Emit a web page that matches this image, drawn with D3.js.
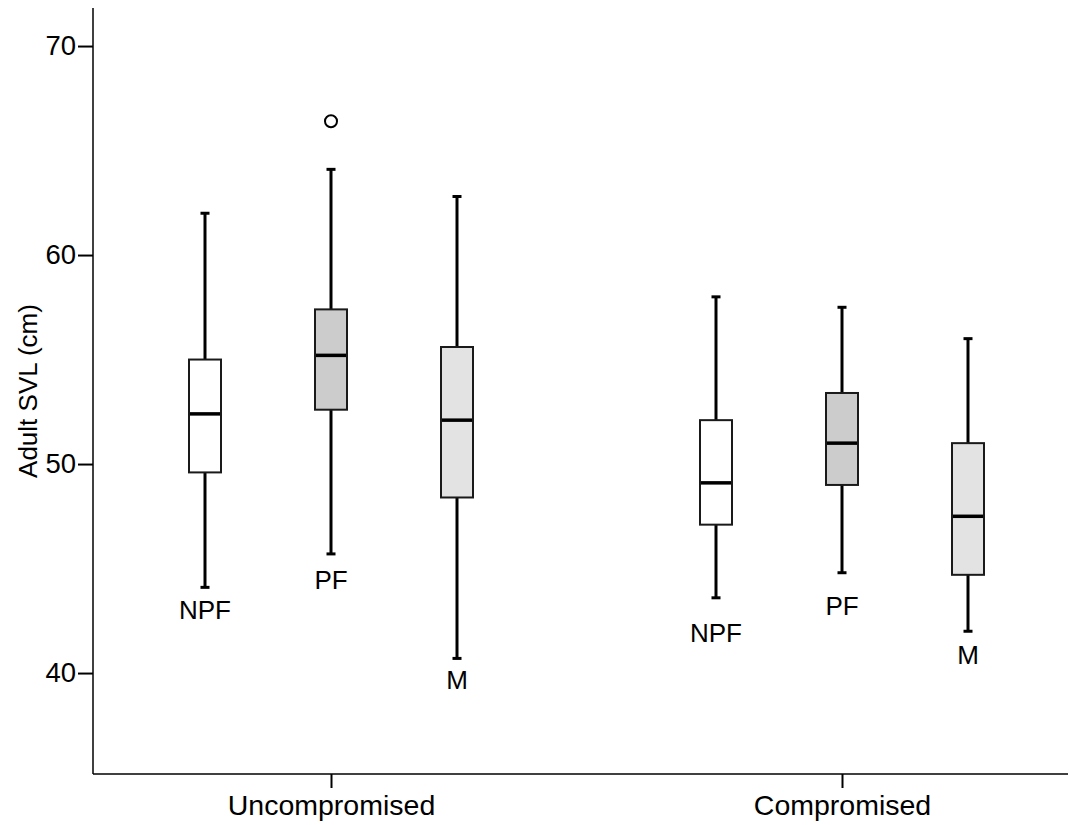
<!DOCTYPE html>
<html>
<head>
<meta charset="utf-8">
<script src="https://cdn.jsdelivr.net/npm/d3@7"></script>
<style>
  body { margin: 0; background: #fff; }
  svg text { font-family: "Liberation Sans", Arial, sans-serif; fill: #000; }
</style>
</head>
<body>
<div id="chart"></div>
<script>
// categories
const groups = ['Uncompromised', 'Compromised'];
const series = ['NPF', 'PF', 'M'];
const yTicks = [40, 50, 60, 70];

// five-number summaries per group, in series order (cm)
const whiskerLow  = [[44.1, 45.7, 40.7], [43.6, 44.8, 42.0]];
const boxLow      = [[49.6, 52.6, 48.4], [47.1, 49.0, 44.7]];
const medians     = [[52.4, 55.2, 52.1], [49.1, 51.0, 47.5]];
const boxHigh     = [[55.0, 57.4, 55.6], [52.1, 53.4, 51.0]];
const whiskerHigh = [[62.0, 64.1, 62.8], [58.0, 57.5, 56.0]];
const outliers    = [{ group: 'Uncompromised', series: 'PF', value: 66.4 }];

// where the series labels sit (baseline, in cm)
const labelAt = [[42.6, 44.0, 39.25], [41.5, 42.8, 40.45]];

const fills = { NPF: '#ffffff', PF: '#cccccc', M: '#e3e3e3' };

const W = 1070, H = 825;
const plotLeft = 93, plotRight = 1068, plotTop = 8, plotBottom = 774;

const svg = d3.select('#chart').append('svg')
  .attr('width', W)
  .attr('height', H);

const y = d3.scaleLinear()
  .domain([35.17, 71.82])
  .range([plotBottom, plotTop]);

const x = d3.scalePoint()
  .domain(groups)
  .range([331, 842]);

const xSub = d3.scalePoint()
  .domain(series)
  .range([-126, 126]);

const boxW = 32, capW = 9;

// flatten into rows
const rows = [];
groups.forEach((g, gi) => {
  series.forEach((s, si) => {
    rows.push({
      group: g, series: s,
      lo: whiskerLow[gi][si], q1: boxLow[gi][si], med: medians[gi][si],
      q3: boxHigh[gi][si], hi: whiskerHigh[gi][si], label: labelAt[gi][si]
    });
  });
});

const cx = d => x(d.group) + xSub(d.series);

const box = svg.append('g').selectAll('g')
  .data(rows)
  .enter()
  .append('g');

// whiskers
box.append('line')
  .attr('x1', cx).attr('x2', cx)
  .attr('y1', d => y(d.hi)).attr('y2', d => y(d.q3))
  .attr('stroke', '#000').attr('stroke-width', 3);
box.append('line')
  .attr('x1', cx).attr('x2', cx)
  .attr('y1', d => y(d.q1)).attr('y2', d => y(d.lo))
  .attr('stroke', '#000').attr('stroke-width', 3);

// caps
['hi', 'lo'].forEach(k => {
  box.append('line')
    .attr('x1', d => cx(d) - capW / 2).attr('x2', d => cx(d) + capW / 2)
    .attr('y1', d => y(d[k])).attr('y2', d => y(d[k]))
    .attr('stroke', '#000').attr('stroke-width', 3);
});

// boxes
box.append('rect')
  .attr('x', d => cx(d) - boxW / 2)
  .attr('width', boxW)
  .attr('y', d => y(d.q3))
  .attr('height', d => y(d.q1) - y(d.q3))
  .attr('fill', d => fills[d.series])
  .attr('stroke', '#1a1a1a')
  .attr('stroke-width', 2);

// medians
box.append('line')
  .attr('x1', d => cx(d) - boxW / 2 + 1).attr('x2', d => cx(d) + boxW / 2 - 1)
  .attr('y1', d => y(d.med)).attr('y2', d => y(d.med))
  .attr('stroke', '#000').attr('stroke-width', 3.5);

// series labels
box.append('text')
  .attr('x', cx)
  .attr('y', d => y(d.label))
  .attr('text-anchor', 'middle')
  .style('font-size', '26px')
  .text(d => d.series);

// outliers
svg.append('g').selectAll('circle')
  .data(outliers)
  .enter()
  .append('circle')
  .attr('cx', d => x(d.group) + xSub(d.series))
  .attr('cy', d => y(d.value))
  .attr('r', 6)
  .attr('fill', '#fff')
  .attr('stroke', '#000')
  .attr('stroke-width', 2);

// axes
const yAxis = d3.axisLeft(y).tickValues(yTicks).tickSize(15).tickPadding(2);
const gy = svg.append('g')
  .attr('transform', `translate(${plotLeft},0)`)
  .call(yAxis);
gy.select('.domain').remove();
gy.selectAll('.tick line').attr('stroke-width', 2);
gy.selectAll('.tick text').style('font-size', '27.5px');

svg.append('line')
  .attr('x1', plotLeft).attr('x2', plotLeft)
  .attr('y1', plotTop).attr('y2', plotBottom)
  .attr('stroke', '#000').attr('stroke-width', 1.5);

const xAxis = d3.axisBottom(x).tickSize(14).tickPadding(7);
const gx = svg.append('g')
  .attr('transform', `translate(0,${plotBottom})`)
  .call(xAxis);
gx.select('.domain').remove();
gx.selectAll('.tick line').attr('stroke-width', 2);
gx.selectAll('.tick text').style('font-size', '28.5px');

svg.append('line')
  .attr('x1', plotLeft).attr('x2', plotRight)
  .attr('y1', plotBottom).attr('y2', plotBottom)
  .attr('stroke', '#000').attr('stroke-width', 1.5);

// y title
svg.append('text')
  .attr('transform', `translate(37,${(plotTop + plotBottom) / 2}) rotate(-90)`)
  .attr('text-anchor', 'middle')
  .style('font-size', '26px')
  .text('Adult SVL (cm)');
</script>
</body>
</html>
